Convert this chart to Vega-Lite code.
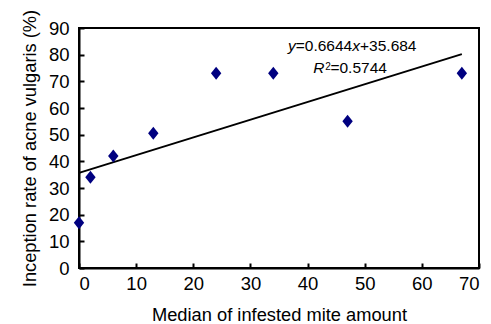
{
  "$schema": "https://vega.github.io/schema/vega-lite/v6.json",
  "width": 400,
  "height": 240,
  "autosize": "none",
  "padding": {"left": 79, "top": 28, "right": 12, "bottom": 56},
  "background": "white",
  "config": {
    "view": {"stroke": "black", "strokeWidth": 2},
    "font": "Liberation Sans",
    "axis": {
      "grid": false,
      "domainColor": "black",
      "domainWidth": 2,
      "tickColor": "black",
      "tickWidth": 2,
      "tickSize": -5,
      "labelOverlap": false,
      "labelFont": "Liberation Sans",
      "labelFontSize": 18.5,
      "labelColor": "black",
      "titleFont": "Liberation Sans",
      "titleFontSize": 18.3,
      "titleFontWeight": "normal",
      "titleColor": "black"
    }
  },
  "datasets": {
    "points": [
      {"x": 0, "y": 17},
      {"x": 2, "y": 34},
      {"x": 6, "y": 42},
      {"x": 13, "y": 50.5},
      {"x": 24, "y": 73},
      {"x": 34, "y": 73},
      {"x": 47, "y": 55},
      {"x": 67, "y": 73}
    ],
    "fit": [
      {"x": 0, "y": 35.684},
      {"x": 67, "y": 80.199}
    ],
    "italic": [
      {"x": 36.58, "y": 81.4, "t": "y"},
      {"x": 47.82, "y": 81.4, "t": "x"},
      {"x": 41.0, "y": 73.0, "t": "R"}
    ],
    "normal": [
      {"x": 37.93, "y": 81.4, "t": "=0.6644"},
      {"x": 49.18, "y": 81.4, "t": "+35.684"},
      {"x": 44.0, "y": 73.0, "t": "=0.5744"}
    ],
    "sup": [
      {"x": 43.08, "y": 74.3, "t": "2"}
    ]
  },
  "encoding": {
    "x": {
      "field": "x", "type": "quantitative",
      "scale": {"domain": [0, 70], "nice": false},
      "axis": {"values": [0,10,20,30,40,50,60,70], "title": "Median of infested mite amount", "labelPadding": 11.5, "titlePadding": 13.5}
    },
    "y": {
      "field": "y", "type": "quantitative",
      "scale": {"domain": [0, 90], "nice": false},
      "axis": {"values": [0,10,20,30,40,50,60,70,80,90], "title": "Inception rate of acne vulgaris (%)", "labelPadding": 15, "titlePadding": 9}
    }
  },
  "layer": [
    {
      "data": {"name": "fit"},
      "mark": {"type": "line", "color": "black", "strokeWidth": 2}
    },
    {
      "data": {"name": "points"},
      "mark": {"type": "point", "shape": "M0,-1L0.8,0L0,1L-0.8,0Z", "filled": true, "color": "#000080", "opacity": 1, "size": 169}
    },
    {
      "data": {"name": "italic"},
      "mark": {"type": "text", "align": "left", "baseline": "alphabetic", "fontSize": 15.5, "fontStyle": "italic", "color": "black", "font": "Liberation Sans"},
      "encoding": {"text": {"field": "t"}}
    },
    {
      "data": {"name": "normal"},
      "mark": {"type": "text", "align": "left", "baseline": "alphabetic", "fontSize": 15.5, "color": "black", "font": "Liberation Sans"},
      "encoding": {"text": {"field": "t"}}
    },
    {
      "data": {"name": "sup"},
      "mark": {"type": "text", "align": "left", "baseline": "alphabetic", "fontSize": 10, "color": "black", "font": "Liberation Sans"},
      "encoding": {"text": {"field": "t"}}
    }
  ]
}
